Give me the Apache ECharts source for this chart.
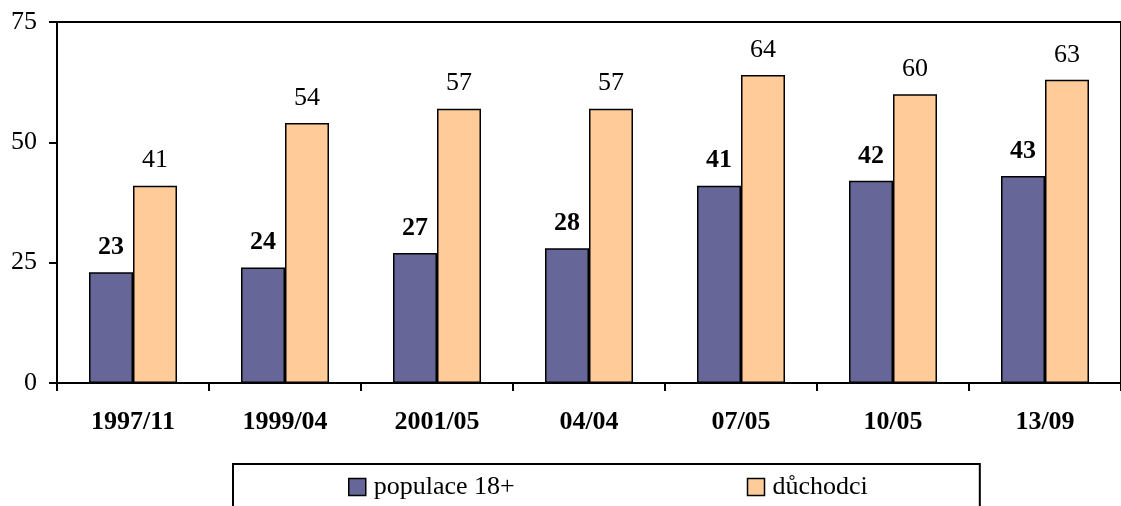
<!DOCTYPE html>
<html>
<head>
<meta charset="utf-8">
<script src="https://cdn.jsdelivr.net/npm/echarts@6/dist/echarts.min.js"></script>
<style>
  html, body { margin: 0; padding: 0; background: #fff; }
  #main { width: 1121px; height: 506px; }
</style>
</head>
<body>
<div id="main"></div>
<script>
const categories = ['1997/11', '1999/04', '2001/05', '04/04', '07/05', '10/05', '13/09'];
const populace = [23, 24, 27, 28, 41, 42, 43];
const duchodci = [41, 54, 57, 57, 64, 60, 63];
const seriesNames = ['populace 18+', 'důchodci'];
const yTicks = { min: 0, max: 75, interval: 25 };

const font = 'Liberation Serif';

const chart = echarts.init(document.getElementById('main'));
chart.setOption({
  animation: false,
  textStyle: { fontFamily: font, color: '#000' },
  grid: {
    left: 57, top: 22, bottom: 123, right: -7,
    show: true, borderColor: '#000', borderWidth: 2,
    backgroundColor: 'transparent'
  },
  legend: {
    data: seriesNames,
    icon: 'rect',
    left: 233, top: 464,
    padding: [10, 112, 30, 115],
    itemGap: 232,
    itemWidth: 17, itemHeight: 17,
    borderColor: '#000', borderWidth: 2,
    itemStyle: { borderColor: '#000', borderWidth: 1.5 },
    textStyle: { fontFamily: font, fontSize: 26, color: '#000', padding: [0, 0, 0, 3] }
  },
  xAxis: {
    type: 'category',
    data: categories,
    axisLine: { lineStyle: { color: '#000', width: 2 } },
    axisTick: { show: true, length: 8, lineStyle: { color: '#000', width: 2 } },
    axisLabel: { fontFamily: font, fontSize: 26, fontWeight: 'bold', color: '#000', margin: 26 }
  },
  yAxis: {
    type: 'value',
    min: yTicks.min, max: yTicks.max, interval: yTicks.interval,
    axisLine: { show: true, lineStyle: { color: '#000', width: 2 } },
    axisTick: { show: true, length: 8, lineStyle: { color: '#000', width: 2 } },
    splitLine: { show: false },
    axisLabel: { fontFamily: font, fontSize: 26, color: '#000', margin: 20 }
  },
  series: [
    {
      name: seriesNames[0],
      type: 'bar',
      data: populace,
      barWidth: 44,
      barGap: '0%',
      itemStyle: { color: '#666699', borderColor: '#000', borderWidth: 1.5 },
      label: {
        show: true, position: 'top', distance: 12,
        fontFamily: font, fontSize: 26, fontWeight: 'bold', color: '#000'
      }
    },
    {
      name: seriesNames[1],
      type: 'bar',
      data: duchodci,
      barWidth: 44,
      itemStyle: { color: '#FFCC99', borderColor: '#000', borderWidth: 1.5 },
      label: {
        show: true, position: 'top', distance: 12,
        fontFamily: font, fontSize: 26, color: '#000'
      }
    }
  ]
});
</script>
</body>
</html>
